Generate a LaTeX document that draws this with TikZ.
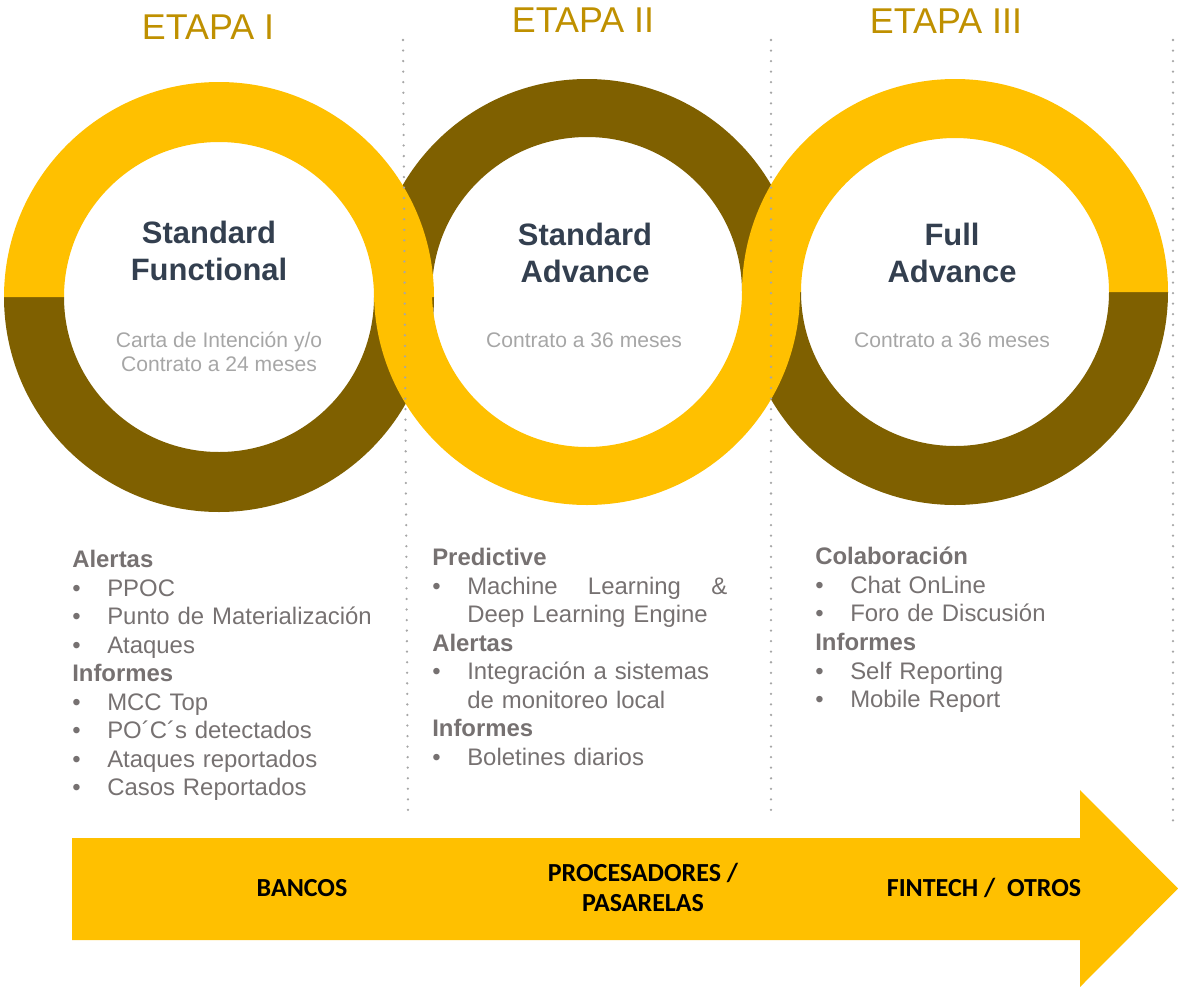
\documentclass[tikz,border=0pt]{standalone}
\usepackage{fontspec}
\setmainfont{Liberation Sans}
\newfontfamily\calibri{Carlito}
\usepackage{xcolor}
\usepackage{tikz}

\definecolor{gold}{HTML}{FFC000}
\definecolor{darkgold}{HTML}{7F6000}
\definecolor{etapagold}{HTML}{BF9000}
\definecolor{slate}{HTML}{333F4F}
\definecolor{subgray}{HTML}{A6A6A6}
\definecolor{listgray}{HTML}{767171}
\definecolor{dotgray}{HTML}{A6A6A6}

\begin{document}
\begin{tikzpicture}[x=0.025cm,y=0.025cm]
    \newcommand{\halfring}[5]{\fill[#5] (#1) ++(#2:#3) arc[start angle=#2,end angle=#2+180,radius=#3] -- ++({#2}:{#3-#4}) arc[start angle=#2+180,end angle=#2,radius=#4] -- cycle;}
    \newcommand{\itm}[1]{\makebox[0.875cm][l]{\textbullet}#1\par}
    \newcommand{\itemcont}[1]{\hspace*{0.875cm}#1\par}

    \tikzstyle{etapa}=[anchor=base, inner sep=0, text=etapagold, font=\fontsize{25.5}{30}\selectfont]
    \tikzstyle{ringtitle}=[anchor=north, align=center, inner sep=0, text=slate, font=\fontsize{22}{26.3}\selectfont\bfseries]
    \tikzstyle{ringsub}=[anchor=north, align=center, inner sep=0, text=subgray, font=\fontsize{15}{17}\selectfont]
    \tikzstyle{itemlist}=[anchor=north west, align=left, text width=8cm, inner sep=0, text=listgray, font=\fontsize{17}{20.3}\selectfont]
    \tikzstyle{sectortext}=[inner sep=0, align=center, font=\calibri\bfseries\fontsize{18.5}{21.3}\selectfont]
    \tikzstyle{divider}=[draw=dotgray, line width=1.8pt, line cap=round, dash pattern=on 0pt off 7.5pt]

    \useasboundingbox (0,0) rectangle (1178,-987);

    \coordinate (r1) at (219,-297);
    \coordinate (r2) at (587,-292);
    \coordinate (r3) at (955,-292);

    % dark halves first, gold halves on top
    \halfring{r1}{180}{215}{155}{darkgold}
    \halfring{r2}{0}{213}{155}{darkgold}
    \halfring{r3}{180}{213}{154}{darkgold}
    \halfring{r1}{0}{215}{155}{gold}
    \halfring{r2}{180}{213}{155}{gold}
    \halfring{r3}{0}{213}{154}{gold}

    \draw[divider] (403,-40) -- (408,-810);
    \draw[divider] (771,-40) -- (771,-810);
    \draw[divider] (1173,-40) -- (1173,-830);

    \node[etapa] (etapa1) at (208,-39) {ETAPA I};
    \node[etapa] (etapa2) at (583,-32) {ETAPA II};
    \node[etapa] (etapa3) at (946,-33) {ETAPA III};

    \node[ringtitle] (title1) at (209,-221) {Standard\\Functional};
    \node[ringtitle] (title2) at (585,-223) {Standard\\Advance};
    \node[ringtitle] (title3) at (952,-223) {Full\\Advance};

    \node[ringsub] (sub1) at (219,-332) {Carta de Intención y/o\\Contrato a 24 meses};
    \node[ringsub] (sub2) at (584,-332) {Contrato a 36 meses};
    \node[ringsub] (sub3) at (952,-332) {Contrato a 36 meses};

    \node[itemlist] (list1) at (72,-550) {\textbf{Alertas}\par
      \itm{PPOC}\itm{Punto de Materialización}\itm{Ataques}
      \textbf{Informes}\par
      \itm{MCC Top}\itm{PO´C´s detectados}\itm{Ataques reportados}\itm{Casos Reportados}};
    \node[itemlist] (list2) at (432,-548) {\textbf{Predictive}\par
      \itm{\hbox to 6.5cm{Machine\hfill Learning\hfill\&}}\itemcont{Deep Learning Engine}
      \textbf{Alertas}\par
      \itm{Integración a sistemas}\itemcont{de monitoreo local}
      \textbf{Informes}\par
      \itm{Boletines diarios}};
    \node[itemlist] (list3) at (815,-547) {\textbf{Colaboración}\par
      \itm{Chat OnLine}\itm{Foro de Discusión}
      \textbf{Informes}\par
      \itm{Self Reporting}\itm{Mobile Report}};

    % sector arrow
    \fill[gold] (72,-838) -- (1080,-838) -- (1080,-790) -- (1178,-888.5) -- (1080,-987) -- (1080,-940) -- (72,-940) -- cycle;
    \node[sectortext] (bancos) at (302,-888) {BANCOS};
    \node[sectortext] (procesadores) at (643,-887) {PROCESADORES /\\PASARELAS};
    \node[sectortext] (fintech) at (984,-888) {FINTECH /~ OTROS};
\end{tikzpicture}
\end{document}
